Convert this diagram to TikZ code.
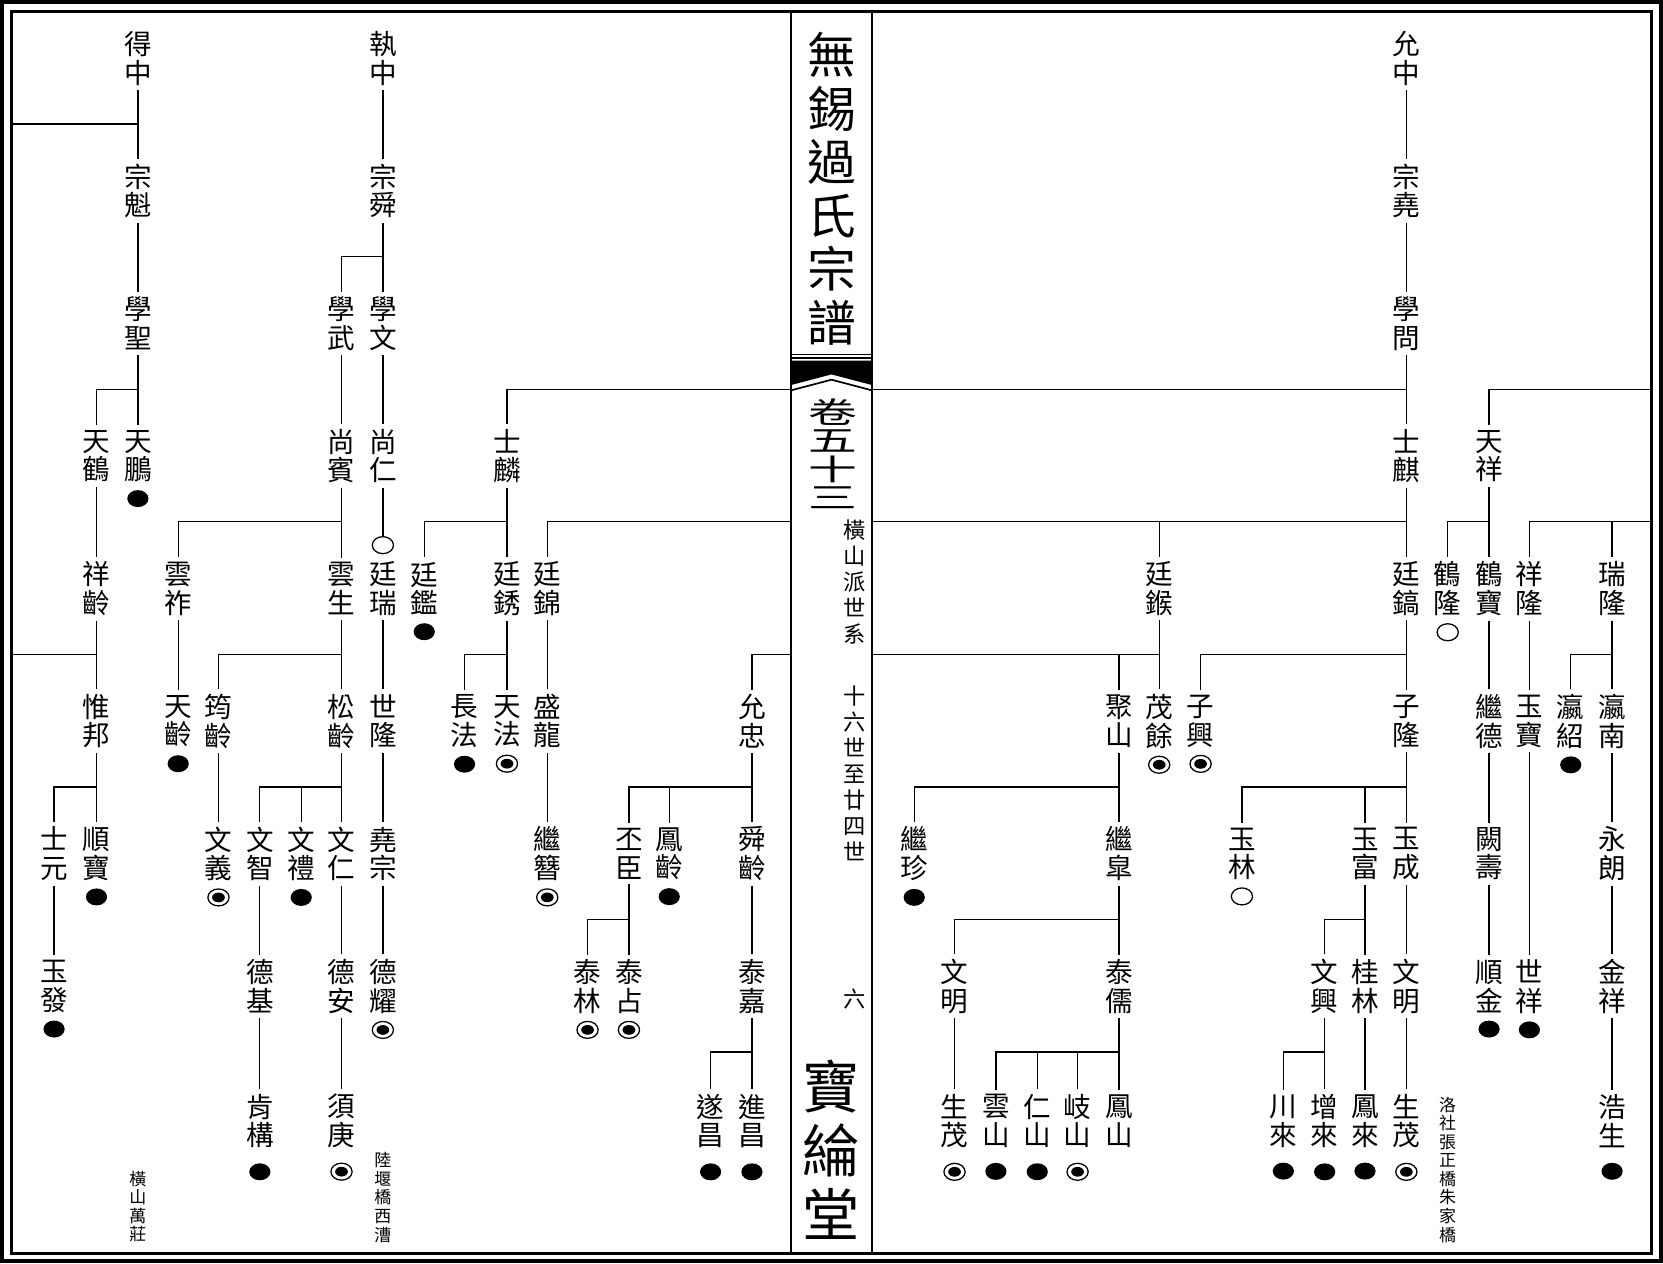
\documentclass[tikz,border=0pt]{standalone}
\usepackage{fontspec}
\newfontfamily\cjk{Noto Sans CJK TC}
\usepackage{tikz}
\usetikzlibrary{positioning,shapes.geometric,calc}

\tikzset{
  nm/.style={font=\cjk\fontsize{13pt}{13.5pt}\selectfont, align=center, inner xsep=0pt, inner ysep=2pt},
  note/.style={font=\cjk\fontsize{8pt}{8.75pt}\selectfont, align=center, inner sep=0pt},
  fdot/.style={ellipse, fill=black, minimum width=10pt, minimum height=8pt, inner sep=0pt},
  odot/.style={ellipse, draw, minimum width=10pt, minimum height=8pt, inner sep=0pt},
  rdot/.style={odot, path picture={\fill (path picture bounding box.center) ellipse (3pt and 2.3pt);}},
}

\begin{document}
\begin{tikzpicture}[x=0.5pt,y=-0.5pt,line width=0.6pt]
\useasboundingbox (0,0) rectangle (1568,1191);

% frame and centre column
\draw[line width=2.2pt] (2,2) rectangle (1566,1189);
\draw[line width=1.6pt] (11,11) rectangle (1557,1182);
\draw[line width=1.2pt] (746,11) -- (746,1182) (822,11) -- (822,1182);
\draw (746,334) -- (822,334) (746,337.5) -- (822,337.5);
\fill (746,340) -- (822,340) -- (822,363) -- (784,353) -- (746,363) -- cycle;
\draw[line width=0.8pt] (746,368) -- (784,358) -- (822,368);

\node[font=\cjk\fontsize{23pt}{25.2pt}\selectfont, align=center, inner sep=0pt] (title) at (784,178) {無\\錫\\過\\氏\\宗\\譜};
\node[font=\cjk\fontsize{23pt}{24pt}\selectfont, inner sep=0pt] (juan) at (785,428) {\scalebox{1}[0.6]{\shortstack{卷\\五\\十\\三}}};
\node[font=\cjk\fontsize{10.5pt}{12.25pt}\selectfont, align=center, inner sep=0pt] (pai) at (806,549) {橫\\山\\派\\世\\系};
\node[font=\cjk\fontsize{10.5pt}{12.25pt}\selectfont, align=center, inner sep=0pt] (shi) at (806,729) {十\\六\\世\\至\\廿\\四\\世};
\node[font=\cjk\fontsize{10.5pt}{12pt}\selectfont, inner sep=0pt] (page) at (806,942) {六};
\node[font=\cjk\fontsize{27pt}{30pt}\selectfont, align=center, inner sep=0pt] (tang) at (784,1084) {寶\\綸\\堂};

\coordinate (lf) at (11,0);
\coordinate (cl) at (746,0);
\coordinate (cr) at (822,0);
\coordinate (rf) at (1557,0);
\foreach \r/\y in {1/117,2/242,3/367,4/492,5/617,6/742,7/867,8/992}
  \coordinate (r\r) at (0,\y);

% left page
\node[nm] (dezhong) at (130,55) {得\\中};
\node[nm] (zongkui) at (130,180) {宗\\魁};
\node[nm] (xuesheng) at (130,305) {學\\聖};
\node[nm] (tianpeng) at (130,430) {天\\鵬};
\node[nm] (tianhe) at (91,430) {天\\鶴};
\node[nm] (xiangling) at (91,555) {祥\\齡};
\node[nm] (weibang) at (91,680) {惟\\邦};
\node[nm] (shunbao) at (91,805) {順\\寶};
\node[nm] (shiyuan) at (51,805) {士\\元};
\node[nm] (yufa) at (51,930) {玉\\發};

\node[nm] (zhizhong) at (361,55) {執\\中};
\node[nm] (zongshun) at (361,180) {宗\\舜};
\node[nm] (xuewen) at (361,305) {學\\文};
\node[nm] (xuewu) at (322,305) {學\\武};
\node[nm] (shangren) at (361,430) {尚\\仁};
\node[odot] (shangren-m) at (361,514) {};
\node[nm] (tingrui) at (361,555) {廷\\瑞};
\node[nm] (shilong) at (361,680) {世\\隆};
\node[nm] (yaozong) at (361,805) {堯\\宗};
\node[nm] (deyao) at (361,930) {德\\耀};
\node[nm] (shangbin) at (322,430) {尚\\賓};
\node[nm] (yunsheng) at (322,555) {雲\\生};
\node[nm] (yunzuo) at (168,555) {雲\\祚};
\node[nm] (tianling) at (168,680) {天\\齡};
\node[nm] (songling) at (322,680) {松\\齡};
\node[nm] (junling) at (206,680) {筠\\齡};
\node[nm] (wenyi) at (206,805) {文\\義};
\node[nm] (wenren) at (322,805) {文\\仁};
\node[nm] (wenli) at (284,805) {文\\禮};
\node[nm] (wenzhi) at (245,805) {文\\智};
\node[nm] (dean) at (322,930) {德\\安};
\node[nm] (xugeng) at (322,1057) {須\\庚};
\node[nm] (deji) at (245,930) {德\\基};
\node[nm] (kengou) at (245,1057) {肯\\構};

\node[nm] (shilin) at (478,430) {士\\麟};
\node[nm] (tingxiu) at (478,555) {廷\\銹};
\node[nm] (tingjian) at (400,555) {廷\\鑑};
\node[nm] (tianfa) at (478,680) {天\\法};
\node[nm] (changfa) at (438,680) {長\\法};
\node[nm] (tingjin) at (516,555) {廷\\錦};
\node[nm] (shenglong) at (516,680) {盛\\龍};
\node[nm] (jizan) at (516,805) {繼\\簪};
\node[nm] (yunzhong) at (709,680) {允\\忠};
\node[nm] (shunling) at (709,805) {舜\\齡};
\node[nm] (fengling) at (631,805) {鳳\\齡};
\node[nm] (pichen) at (593,805) {丕\\臣};
\node[nm] (taizhan) at (593,930) {泰\\占};
\node[nm] (tailin) at (554,930) {泰\\林};
\node[nm] (taijia) at (709,930) {泰\\嘉};
\node[nm] (jinchang) at (709,1057) {進\\昌};
\node[nm] (suichang) at (670,1057) {遂\\昌};

% right page
\node[nm] (yunzh) at (1326,55) {允\\中};
\node[nm] (zongyao) at (1326,180) {宗\\堯};
\node[nm] (xuewenq) at (1326,305) {學\\問};
\node[nm] (shiqi) at (1326,430) {士\\麒};
\node[nm] (tinggao) at (1326,555) {廷\\鎬};
\node[nm] (tinghou) at (1093,555) {廷\\鍭};
\node[nm] (maoyu) at (1093,680) {茂\\餘};
\node[nm] (jushan) at (1055,680) {聚\\山};
\node[nm] (zixing) at (1132,680) {子\\興};
\node[nm] (zilong) at (1326,680) {子\\隆};
\node[nm] (jigao) at (1055,805) {繼\\皐};
\node[nm] (jizhen) at (862,805) {繼\\珍};
\node[nm] (tairu) at (1055,930) {泰\\儒};
\node[nm] (wenming1) at (900,930) {文\\明};
\node[nm] (shengmao1) at (900,1057) {生\\茂};
\node[nm] (fengshan) at (1055,1057) {鳳\\山};
\node[nm] (qishan) at (1016,1057) {岐\\山};
\node[nm] (renshan) at (978,1057) {仁\\山};
\node[nm] (yunshan) at (939,1057) {雲\\山};
\node[nm] (yucheng) at (1326,805) {玉\\成};
\node[nm] (yufu) at (1287,805) {玉\\富};
\node[nm] (yulin) at (1171,805) {玉\\林};
\node[nm] (wenming2) at (1326,930) {文\\明};
\node[nm] (shengmao2) at (1326,1057) {生\\茂};
\node[nm] (guilin) at (1287,930) {桂\\林};
\node[nm] (wenxing) at (1249,930) {文\\興};
\node[nm] (fenglai) at (1287,1057) {鳳\\來};
\node[nm] (zenglai) at (1249,1057) {增\\來};
\node[nm] (chuanlai) at (1210,1057) {川\\來};
\node[nm] (tianxiang) at (1404,430) {天\\祥};
\node[nm] (hebao) at (1404,555) {鶴\\寶};
\node[nm] (helong) at (1365,555) {鶴\\隆};
\node[nm] (jide) at (1404,680) {繼\\德};
\node[nm] (queshou) at (1404,805) {闕\\壽};
\node[nm] (shunjin) at (1404,930) {順\\金};
\node[nm] (xianglong) at (1442,555) {祥\\隆};
\node[nm] (yubao) at (1442,680) {玉\\寶};
\node[nm] (shixiang) at (1442,930) {世\\祥};
\node[nm] (ruilong) at (1520,555) {瑞\\隆};
\node[nm] (yingnan) at (1520,680) {瀛\\南};
\node[nm] (yingshao) at (1481,680) {瀛\\紹};
\node[nm] (yonglang) at (1520,805) {永\\朗};
\node[nm] (jinxiang) at (1520,930) {金\\祥};
\node[nm] (haosheng) at (1520,1057) {浩\\生};

% marks
\foreach \n in {tianpeng,shunbao,yufa,tianling,wenli,tingjian,changfa,fengling,jizhen,shunjin,shixiang,yingshao}
  \node[fdot, below=1.2pt of \n] (\n-m) {};
\foreach \n in {kengou,jinchang,suichang,renshan,yunshan,fenglai,zenglai,chuanlai,haosheng}
  \node[fdot, below=4.6pt of \n] (\n-m) {};
\foreach \n in {deyao,wenyi,tianfa,jizan,taizhan,tailin,maoyu,zixing}
  \node[rdot, below=1.2pt of \n] (\n-m) {};
\foreach \n in {xugeng,shengmao1,qishan,shengmao2}
  \node[rdot, below=4.6pt of \n] (\n-m) {};
\foreach \n in {yulin,helong}
  \node[odot, below=1.2pt of \n] (\n-m) {};

% places
\node[note, anchor=south] (wanzhuang) at (130,1172) {橫\\山\\萬\\莊};
\node[note, anchor=south] (xicao) at (361,1172) {陸\\堰\\橋\\西\\漕};
\node[note, anchor=south] (zhujia) at (1365,1172) {洛\\社\\張\\正\\橋\\朱\\家\\橋};

% left page lines
\draw (lf |- r1) -- (dezhong |- r1);
\draw (dezhong) -- (zongkui) -- (xuesheng) -- (tianpeng);
\draw (tianhe) |- (xuesheng |- r3);
\draw (tianhe) -- (xiangling) -- (weibang) -- (shunbao);
\draw (lf |- r5) -- (xiangling |- r5);
\draw (shiyuan) |- (weibang |- r6);
\draw (shiyuan) -- (yufa);

\draw (zhizhong) -- (zongshun) -- (xuewen) -- (shangren) -- (shangren-m);
\draw (xuewu) |- (zongshun |- r2);
\draw (tingrui) -- (shilong) -- (yaozong) -- (deyao);
\draw (xuewu) -- (shangbin) -- (yunsheng) -- (songling) -- (wenren) -- (dean) -- (xugeng);
\draw (yunzuo) |- (shangbin |- r4);
\draw (yunzuo) -- (tianling);
\draw (junling) |- (yunsheng |- r5);
\draw (junling) -- (wenyi);
\draw (wenzhi) |- (songling |- r6);
\draw (wenli) -- (wenli |- r6);
\draw (wenzhi) -- (deji) -- (kengou);

\draw (cl |- r3) -| (shilin);
\draw (shilin) -- (tingxiu) -- (tianfa);
\draw (tingjian) |- (shilin |- r4);
\draw (changfa) |- (tingxiu |- r5);
\draw (cl |- r4) -| (tingjin);
\draw (tingjin) -- (shenglong) -- (jizan);
\draw (cl |- r5) -| (yunzhong);
\draw (yunzhong) -- (shunling) -- (taijia) -- (jinchang);
\draw (pichen) |- (yunzhong |- r6);
\draw (fengling) -- (fengling |- r6);
\draw (pichen) -- (taizhan);
\draw (tailin) |- (pichen |- r7);
\draw (suichang) |- (taijia |- r8);

% right page lines
\draw (yunzh) -- (zongyao) -- (xuewenq) -- (shiqi) -- (tinggao) -- (zilong) -- (yucheng) -- (wenming2) -- (shengmao2);
\draw (cr |- r3) -- (xuewenq |- r3);
\draw (cr |- r4) -- (shiqi |- r4);
\draw (tinghou) -- (tinghou |- r4);
\draw (tinghou) -- (maoyu);
\draw (cr |- r5) -- (tinghou |- r5);
\draw (jushan) -- (jushan |- r5);
\draw (zixing) |- (tinggao |- r5);
\draw (jushan) -- (jigao) -- (tairu) -- (fengshan);
\draw (jizhen) |- (jushan |- r6);
\draw (wenming1) |- (jigao |- r7);
\draw (wenming1) -- (shengmao1);
\draw (yunshan) |- (tairu |- r8);
\draw (renshan) -- (renshan |- r8);
\draw (qishan) -- (qishan |- r8);
\draw (yulin) |- (zilong |- r6);
\draw (yufu) -- (yufu |- r6);
\draw (yufu) -- (guilin) -- (fenglai);
\draw (wenxing) |- (yufu |- r7);
\draw (wenxing) -- (zenglai);
\draw (chuanlai) |- (wenxing |- r8);

\draw (rf |- r3) -| (tianxiang);
\draw (tianxiang) -- (hebao) -- (jide) -- (queshou) -- (shunjin);
\draw (helong) |- (tianxiang |- r4);
\draw (rf |- r4) -| (xianglong);
\draw (ruilong) -- (ruilong |- r4);
\draw (xianglong) -- (yubao) -- (shixiang);
\draw (ruilong) -- (yingnan) -- (yonglang) -- (jinxiang) -- (haosheng);
\draw (yingshao) |- (ruilong |- r5);
\end{tikzpicture}
\end{document}
